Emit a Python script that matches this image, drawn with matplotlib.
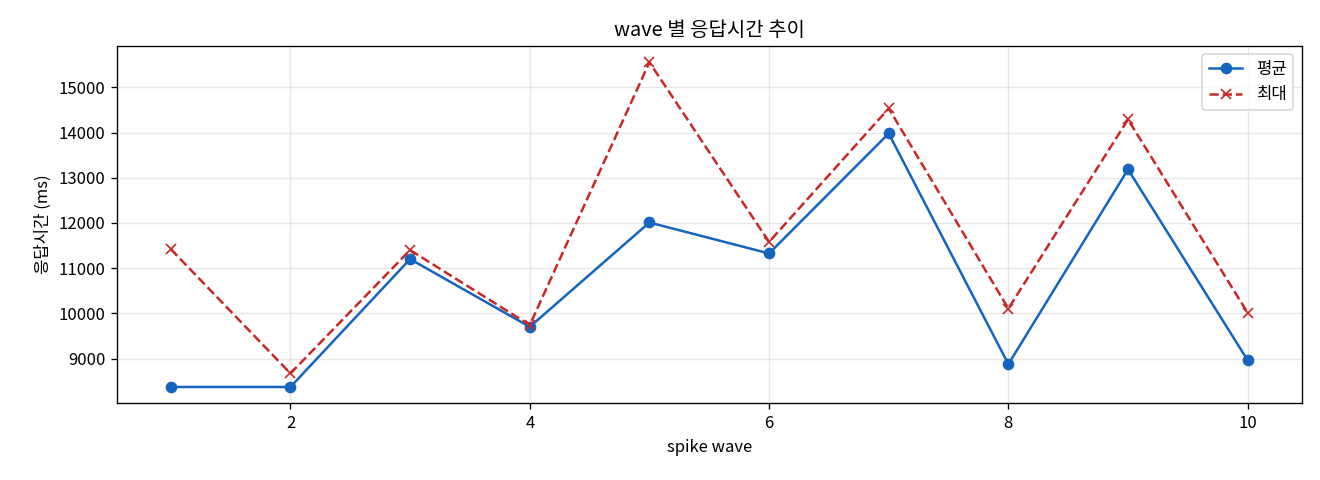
import matplotlib
matplotlib.use("Agg")
import matplotlib.pyplot as plt

plt.rcParams["font.family"] = ["Noto Sans CJK KR", "DejaVu Sans"]
plt.rcParams["axes.unicode_minus"] = False

waves = [1, 2, 3, 4, 5, 6, 7, 8, 9, 10]
avg_ms = [8370, 8370, 11200, 9700, 12010, 11325, 13980, 8875, 13185, 8960]
max_ms = [11420, 8670, 11400, 9740, 15555, 11580, 14535, 10105, 14290, 10010]


def main():
    fig, ax = plt.subplots(figsize=(11, 4), dpi=120)
    ax.plot(waves, avg_ms, marker="o", color="#1565c0", label="평균")
    ax.plot(waves, max_ms, marker="x", linestyle="--", color="#c62828", label="최대")
    ax.set_title("wave 별 응답시간 추이")
    ax.set_xlabel("spike wave")
    ax.set_ylabel("응답시간 (ms)")
    ax.grid(True, alpha=0.3)
    ax.legend(loc="upper right")
    fig.subplots_adjust(left=0.0886, right=0.986, top=0.904, bottom=0.16)
    fig.savefig("out.png")
    plt.close(fig)


if __name__ == "__main__":
    main()
